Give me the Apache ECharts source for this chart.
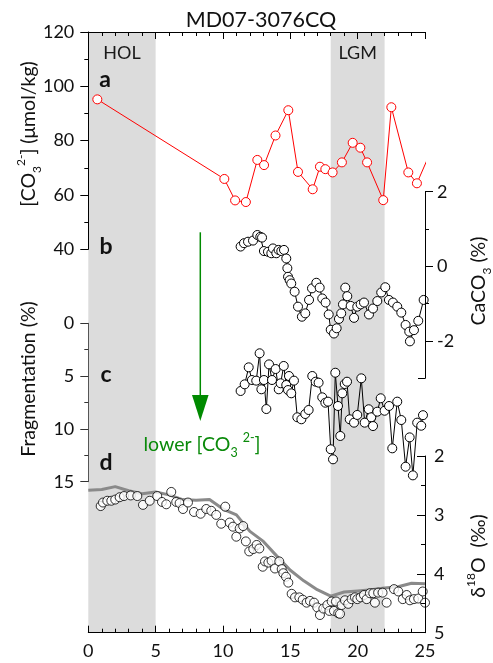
<!DOCTYPE html>
<html>
<head>
<meta charset="utf-8">
<script src="https://cdn.jsdelivr.net/npm/echarts@6/dist/echarts.min.js"></script>
<style>
html,body{margin:0;padding:0;background:#fff;}
#chart{width:493px;height:663px;}
</style>
</head>
<body>
<div id="chart"></div>
<script>
// ---------------- data ----------------
const title = 'MD07-3076CQ';
const bands = [[0, 5, 'HOL'], [18, 22, 'LGM']];
const xTicks = [0, 5, 10, 15, 20, 25];

// a: [CO3 2-] (umol/kg)
const coAge = [0.67, 10.1, 10.9, 11.7, 12.55, 13.05, 13.9, 14.85, 15.57, 16.66, 17.2, 17.6, 18.14, 18.83, 19.63, 20.2, 20.7, 21.9, 22.5, 23.76, 24.4, 25.25];
const coVal = [95.2, 65.9, 58.0, 57.4, 72.9, 71.0, 81.9, 91.2, 68.5, 62.1, 70.4, 69.5, 68.3, 72.0, 79.2, 77.4, 72.0, 58.1, 92.3, 68.3, 64.3, 74.0];

// b: CaCO3 (%)
const bAge = [11.31, 11.56, 11.86, 12.23, 12.55, 12.77, 12.9, 13.04, 13.34, 13.59, 13.71, 13.96, 14.13, 14.33, 14.53, 14.7, 14.78, 14.83, 14.95, 15.07, 15.32, 15.57, 15.86, 16.11, 16.39, 16.61, 16.93, 17.18, 17.37, 17.62, 17.85, 18.0, 18.24, 18.44, 18.61, 18.78, 18.91, 19.08, 19.23, 19.48, 19.73, 19.97, 20.22, 20.47, 20.84, 21.14, 21.46, 21.75, 22.05, 22.32, 22.62, 22.94, 23.24, 23.56, 23.83, 23.88, 24.18, 24.5, 24.9];
const bVal = [0.53, 0.62, 0.66, 0.69, 0.84, 0.79, 0.77, 0.41, 0.39, 0.35, 0.48, 0.35, 0.44, 0.41, 0.44, 0.21, -0.05, -0.28, -0.37, -0.46, -0.68, -1.08, -1.35, -1.26, -0.90, -0.59, -0.44, -0.57, -0.86, -0.97, -1.29, -1.70, -1.80, -1.66, -1.41, -1.26, -1.02, -0.57, -0.80, -1.06, -1.38, -1.08, -1.02, -0.97, -1.29, -1.13, -0.93, -0.70, -0.56, -0.90, -0.97, -1.08, -1.24, -1.57, -1.75, -2.01, -1.71, -1.46, -0.90];
const bTicks = [2, 0, -2];
const bMinor = [1, -1];

// c: Fragmentation (%)
const cAge = [11.31, 11.61, 11.91, 12.15, 12.47, 12.72, 12.85, 13.04, 13.22, 13.42, 13.64, 13.91, 14.14, 14.28, 14.51, 14.7, 14.83, 14.9, 15.07, 15.27, 15.52, 15.82, 16.11, 16.36, 16.63, 16.88, 17.1, 17.37, 17.6, 17.8, 18.0, 18.17, 18.34, 18.54, 18.71, 18.86, 19.04, 19.21, 19.41, 19.73, 19.97, 20.27, 20.52, 20.82, 21.01, 21.14, 21.46, 21.71, 22.0, 22.33, 22.57, 22.94, 23.24, 23.56, 23.86, 24.1, 24.42, 24.72, 24.85];
const cVal = [6.41, 5.78, 4.17, 5.37, 5.43, 2.84, 6.25, 5.37, 8.12, 3.89, 5.37, 4.33, 6.25, 5.68, 4.04, 5.84, 6.32, 4.99, 6.63, 5.43, 8.9, 9.09, 8.59, 8.21, 4.99, 5.53, 5.62, 7.01, 7.52, 7.42, 11.93, 12.88, 4.68, 7.83, 10.67, 6.63, 5.75, 5.53, 9.09, 9.41, 8.68, 5.21, 9.41, 8.14, 8.9, 9.73, 8.37, 7.1, 8.28, 7.83, 11.84, 7.42, 9.16, 13.58, 10.8, 14.4, 9.41, 9.7, 8.7];

// d: d18O (permil)
const dAge = [0.92, 1.09, 1.41, 1.71, 2.0, 2.33, 2.65, 3.15, 3.64, 4.06, 4.56, 5.12, 5.47, 5.79, 6.16, 6.53, 6.78, 7.03, 7.4, 7.85, 8.34, 8.76, 9.13, 9.5, 9.87, 10.17, 10.5, 10.74, 10.99, 11.24, 11.5, 11.7, 11.95, 12.25, 12.5, 12.7, 12.95, 13.12, 13.37, 13.61, 13.86, 14.18, 14.36, 14.48, 14.68, 14.85, 15.1, 15.35, 15.67, 15.92, 16.21, 16.46, 16.76, 17.0, 17.2, 17.45, 17.75, 17.9, 18.07, 18.24, 18.39, 18.56, 18.69, 18.81, 19.06, 19.3, 19.55, 19.8, 19.97, 20.22, 20.47, 20.67, 20.91, 21.16, 21.28, 21.52, 21.85, 22.15, 22.7, 23.02, 23.35, 23.64, 23.88, 24.18, 24.5, 24.83, 25.0];
const dVal = [2.85, 2.79, 2.76, 2.76, 2.74, 2.70, 2.68, 2.67, 2.68, 2.83, 2.76, 2.68, 2.78, 2.82, 2.61, 2.78, 2.80, 2.90, 2.79, 2.95, 2.98, 2.90, 2.93, 3.0, 3.15, 2.86, 3.13, 3.20, 3.37, 3.23, 3.19, 3.45, 3.62, 3.58, 3.51, 3.57, 3.88, 3.79, 3.81, 3.78, 3.91, 3.79, 3.92, 3.99, 4.05, 4.15, 4.34, 4.40, 4.40, 4.44, 4.49, 4.46, 4.49, 4.57, 4.70, 4.59, 4.53, 4.63, 4.47, 4.63, 4.47, 4.67, 4.68, 4.53, 4.45, 4.51, 4.43, 4.40, 4.43, 4.40, 4.36, 4.43, 4.33, 4.33, 4.49, 4.32, 4.32, 4.49, 4.26, 4.30, 4.43, 4.36, 4.45, 4.43, 4.42, 4.30, 4.49];

// grey reference curve on d18O axis
const refAge = [0, 1, 2, 3, 4, 5, 6, 7, 8, 9, 10, 11, 12, 13, 14, 15, 16, 17, 18, 19, 20, 21, 22, 23, 24, 25];
const refVal = [2.58, 2.57, 2.52, 2.59, 2.64, 2.61, 2.66, 2.74, 2.75, 2.74, 2.90, 3.00, 3.28, 3.45, 3.70, 3.94, 4.12, 4.27, 4.38, 4.31, 4.29, 4.27, 4.24, 4.22, 4.16, 4.17];

// ---------------- chart ----------------
const zip = (a, b) => a.map((v, i) => [v, b[i]]);
const FONT = 'Lato, "Liberation Sans", sans-serif';
const L = 88.3, W = 336.7;
const TICK = 18;
const openCircle = (c) => ({ color: '#fff', borderColor: c, borderWidth: 1 });
const hiddenX = (g) => ({ gridIndex: g, type: 'value', min: 0, max: 25, show: false });
const line = (c) => ({ show: true, onZero: false, lineStyle: { color: c, width: 1 } });
const supsub = {
  sub: { fontSize: 12, verticalAlign: 'bottom', lineHeight: 12, fontFamily: FONT },
  sup: { fontSize: 12, verticalAlign: 'top', lineHeight: 12, fontFamily: FONT }
};
const chart = echarts.init(document.getElementById('chart'), null, { renderer: 'canvas' });

const option = {
  animation: false,
  backgroundColor: '#fff',
  textStyle: { fontFamily: FONT },
  grid: [
    { left: L, width: W, top: 32, height: 600.7 },
    { left: L, width: W, top: 32, height: 217.3 },
    { left: L, width: W, top: 191.7, height: 186.6 },
    { left: L, width: W, top: 323.3, height: 158.4 },
    { left: L, width: W, top: 456, height: 176.7 }
  ],
  xAxis: [
    {
      gridIndex: 0, type: 'value', min: 0, max: 25, interval: 5, position: 'bottom', z: 5,
      axisLine: line('#000'),
      axisTick: { inside: true, length: 7, lineStyle: { color: '#000' } },
      minorTick: { show: true, splitNumber: 5, length: 4, lineStyle: { color: '#000' } },
      splitLine: { show: false },
      axisLabel: { fontSize: TICK, color: '#111', margin: 9, fontFamily: FONT,
        formatter: v => xTicks.includes(v) ? String(v) : '' }
    },
    {
      gridIndex: 0, type: 'value', min: 0, max: 25, interval: 5, position: 'top', z: 5,
      axisLine: line('#000'),
      axisTick: { inside: true, length: 7, lineStyle: { color: '#000' } },
      minorTick: { show: true, splitNumber: 5, length: 4, lineStyle: { color: '#000' } },
      splitLine: { show: false },
      axisLabel: { show: false }
    },
    hiddenX(1), hiddenX(2), hiddenX(3), hiddenX(4)
  ],
  yAxis: [
    { gridIndex: 0, type: 'value', min: 0, max: 1, show: false },
    { // a
      gridIndex: 1, type: 'value', min: 40, max: 120, interval: 20, position: 'left', z: 5,
      axisLine: line('#000'),
      axisTick: { show: true, inside: false, length: 8, lineStyle: { color: '#000' } },
      minorTick: { show: true, splitNumber: 2, length: 4, lineStyle: { color: '#000' } },
      splitLine: { show: false },
      axisLabel: { fontSize: TICK, color: '#111', margin: 14, fontFamily: FONT }
    },
    { // b main
      gridIndex: 2, type: 'value', min: -3, max: 2, position: 'right', z: 5,
      axisLine: line('#000'),
      axisTick: { show: true, inside: false, length: 8, customValues: bTicks, lineStyle: { color: '#000' } },
      splitLine: { show: false },
      axisLabel: { fontSize: TICK, color: '#111', margin: 12, customValues: bTicks, fontFamily: FONT }
    },
    { // b minor ticks
      gridIndex: 2, type: 'value', min: -3, max: 2, position: 'right', z: 5,
      axisLine: { show: false, onZero: false },
      axisTick: { show: true, inside: false, length: 4, customValues: bMinor, lineStyle: { color: '#000' } },
      splitLine: { show: false },
      axisLabel: { show: false }
    },
    { // b bottom end tick
      gridIndex: 2, type: 'value', min: -3, max: 2, position: 'right', z: 5,
      axisLine: { show: false, onZero: false },
      axisTick: { show: true, inside: true, length: 7, customValues: [-3], lineStyle: { color: '#000' } },
      splitLine: { show: false },
      axisLabel: { show: false }
    },
    { // c
      gridIndex: 3, type: 'value', min: 0, max: 15, interval: 5, inverse: true, position: 'left', z: 5,
      axisLine: line('#555'),
      axisTick: { show: true, inside: false, length: 8, lineStyle: { color: '#333' } },
      minorTick: { show: true, splitNumber: 2, length: 4, lineStyle: { color: '#333' } },
      splitLine: { show: false },
      axisLabel: { fontSize: TICK, color: '#111', margin: 14, fontFamily: FONT }
    },
    { // d
      gridIndex: 4, type: 'value', min: 2, max: 5, interval: 1, inverse: true, position: 'right', z: 5,
      axisLine: line('#000'),
      axisTick: { show: true, inside: true, length: 8, lineStyle: { color: '#000' } },
      minorTick: { show: true, splitNumber: 2, length: 4, lineStyle: { color: '#000' } },
      splitLine: { show: false },
      axisLabel: { fontSize: TICK, color: '#111', margin: 9, fontFamily: FONT }
    }
  ],
  series: [
    {
      type: 'line', xAxisIndex: 0, yAxisIndex: 0, z: 0, data: [[0, -1]], showSymbol: false,
      lineStyle: { width: 0 }, silent: true,
      markArea: {
        silent: true, z: 0,
        itemStyle: { color: '#dcdcdc' },
        label: { show: true, position: 'insideTop', distance: 12, fontSize: 18, color: '#1a1a1a', fontFamily: FONT },
        data: bands.map(b => [{ xAxis: b[0], name: b[2] }, { xAxis: b[1] }])
      }
    },
    {
      type: 'line', xAxisIndex: 2, yAxisIndex: 1, data: zip(coAge, coVal), z: 3,
      symbol: 'circle', symbolSize: 9, showAllSymbol: true,
      itemStyle: openCircle('#ff0000'), lineStyle: { color: '#ff0000', width: 1 }
    },
    {
      type: 'line', xAxisIndex: 3, yAxisIndex: 2, data: zip(bAge, bVal), z: 3,
      symbol: 'circle', symbolSize: 9, showAllSymbol: true,
      itemStyle: openCircle('#000'), lineStyle: { color: '#000', width: 1 }
    },
    {
      type: 'line', xAxisIndex: 4, yAxisIndex: 5, data: zip(cAge, cVal), z: 3,
      symbol: 'circle', symbolSize: 9, showAllSymbol: true,
      itemStyle: openCircle('#000'), lineStyle: { color: '#000', width: 1 }
    },
    {
      type: 'line', xAxisIndex: 5, yAxisIndex: 6, data: zip(refAge, refVal), z: 2,
      showSymbol: false, lineStyle: { color: '#8a8a8a', width: 3 }
    },
    {
      type: 'scatter', xAxisIndex: 5, yAxisIndex: 6, data: zip(dAge, dVal), z: 3,
      symbol: 'circle', symbolSize: 9, itemStyle: openCircle('#000')
    }
  ],
  graphic: [
    { type: 'text', x: 261, y: 20, z: 10, style: { text: title, fontSize: 21.5, fontFamily: FONT, fill: '#111', align: 'center', verticalAlign: 'middle' } },
    { type: 'text', x: 105, y: 80, z: 10, style: { text: 'a', fontSize: 23, fontWeight: 'bold', fontFamily: FONT, fill: '#111', align: 'center', verticalAlign: 'middle' } },
    { type: 'text', x: 106, y: 247, z: 10, style: { text: 'b', fontSize: 23, fontWeight: 'bold', fontFamily: FONT, fill: '#111', align: 'center', verticalAlign: 'middle' } },
    { type: 'text', x: 106, y: 375, z: 10, style: { text: 'c', fontSize: 23, fontWeight: 'bold', fontFamily: FONT, fill: '#111', align: 'center', verticalAlign: 'middle' } },
    { type: 'text', x: 106, y: 463, z: 10, style: { text: 'd', fontSize: 23, fontWeight: 'bold', fontFamily: FONT, fill: '#111', align: 'center', verticalAlign: 'middle' } },
    { type: 'text', x: 29, y: 134, rotation: Math.PI / 2, z: 10,
      style: { text: '[CO{sub|3}{sup|2-}] (μmol/kg)', rich: supsub, fontSize: 19.5, lineHeight: 28, fontFamily: FONT, fill: '#111', align: 'center', verticalAlign: 'middle' } },
    { type: 'text', x: 29, y: 379, rotation: Math.PI / 2, z: 10,
      style: { text: 'Fragmentation (%)', fontSize: 19.5, fontFamily: FONT, fill: '#111', align: 'center', verticalAlign: 'middle' } },
    { type: 'text', x: 479, y: 281, rotation: Math.PI / 2, z: 10,
      style: { text: 'CaCO{sub|3} (%)', rich: supsub, fontSize: 19.5, lineHeight: 28, fontFamily: FONT, fill: '#111', align: 'center', verticalAlign: 'middle' } },
    { type: 'text', x: 479, y: 556, rotation: Math.PI / 2, z: 10,
      style: { text: 'δ{sup|18}O  (‰)', rich: supsub, fontSize: 19.5, lineHeight: 28, fontFamily: FONT, fill: '#111', align: 'center', verticalAlign: 'middle' } },
    { type: 'line', z: 10, shape: { x1: 200.3, y1: 232.3, x2: 200.3, y2: 400 }, style: { stroke: '#008a00', lineWidth: 1.5 } },
    { type: 'polygon', z: 10, shape: { points: [[192, 395], [208.6, 395], [200.3, 421]] }, style: { fill: '#008a00' } },
    { type: 'text', x: 202, y: 445, z: 10,
      style: { text: 'lower [CO{sub|3} {sup|2-}]', rich: { sub: { fontSize: 12.5, verticalAlign: 'bottom', lineHeight: 12, fill: '#0a8a0a', fontFamily: FONT }, sup: { fontSize: 12.5, verticalAlign: 'top', lineHeight: 12, fill: '#0a8a0a', fontFamily: FONT } },
        fontSize: 19.5, lineHeight: 28, fontFamily: FONT, fill: '#0a8a0a', align: 'center', verticalAlign: 'middle' } }
  ]
};
chart.setOption(option);
</script>
</body>
</html>
